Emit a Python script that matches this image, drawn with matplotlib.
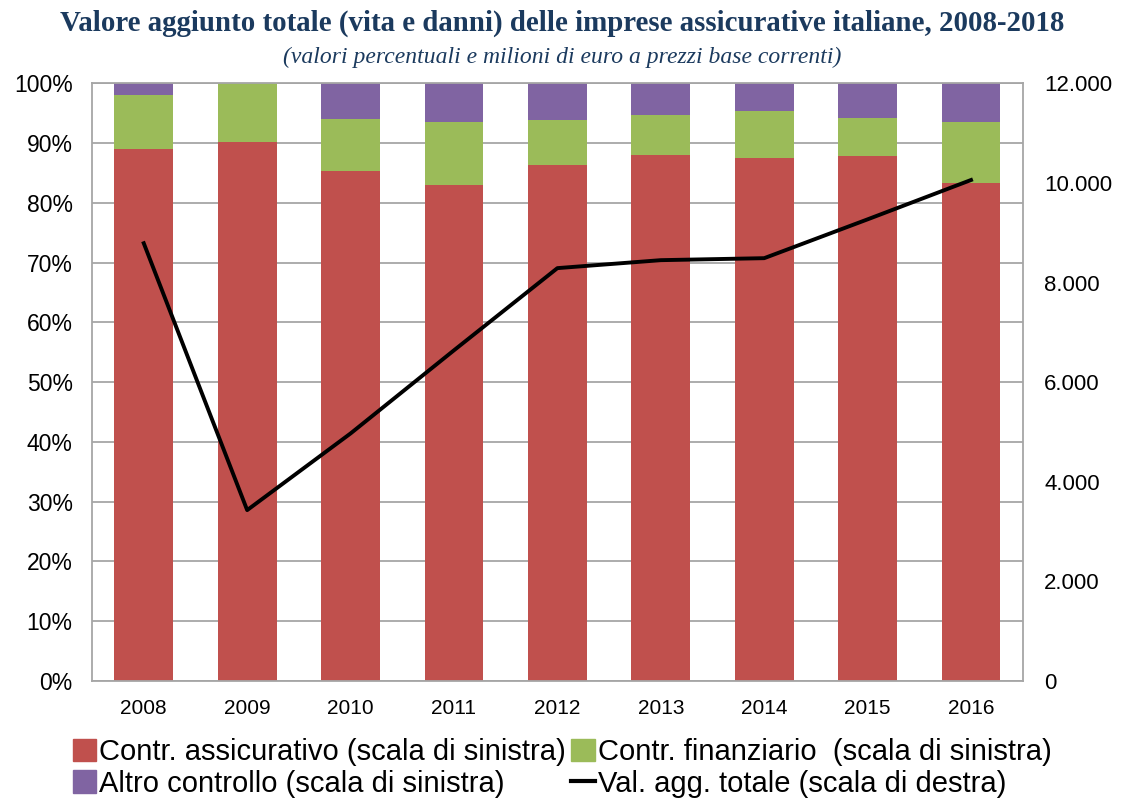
import numpy as np
import matplotlib
matplotlib.use("Agg")
import matplotlib.pyplot as plt
from matplotlib.ticker import FuncFormatter
from matplotlib.lines import Line2D
from matplotlib.patches import Patch

years = ["2008", "2009", "2010", "2011", "2012", "2013", "2014", "2015", "2016"]
assicurativo = [89.0, 90.2, 85.4, 83.0, 86.3, 88.0, 87.5, 87.8, 83.3]
finanziario = [9.0, 9.8, 8.6, 10.6, 7.5, 6.7, 7.8, 6.4, 10.3]
altro = [2.0, 0.0, 6.0, 6.4, 6.2, 5.3, 4.7, 5.8, 6.4]
val_agg = [8790, 3430, 4970, 6640, 8290, 8450, 8490, 9270, 10060]

red = "#C0504D"
green = "#9BBB59"
purple = "#8064A2"
grid_col = "#A6A6A6"
title_col = "#1B3A5E"

plt.rcParams["font.family"] = ["Liberation Sans", "DejaVu Sans"]

fig = plt.figure(figsize=(11.24, 8.02), dpi=100)
ax = fig.add_axes([0.0819, 0.151, 0.828, 0.745])

x = np.arange(len(years))
w = 0.57
a = np.array(assicurativo)
f = np.array(finanziario)
o = np.array(altro)
ax.bar(x, a, w, color=red, zorder=2)
ax.bar(x, f, w, bottom=a, color=green, zorder=2)
ax.bar(x, o, w, bottom=a + f, color=purple, zorder=2)

ax.set_xlim(-0.5, len(years) - 0.5)
ax.set_ylim(0, 100)
ax.set_yticks(np.arange(0, 101, 10))
ax.yaxis.set_major_formatter(FuncFormatter(lambda v, p: f"{int(v)}%"))
ax.set_xticks(x)
ax.set_xticklabels(years)
ax.grid(axis="y", color=grid_col, lw=1.3, zorder=0)
ax.set_axisbelow(True)
for s in ax.spines.values():
    s.set_color(grid_col)
    s.set_linewidth(1.3)
ax.tick_params(axis="y", length=0, labelsize=16.5, pad=14, colors="#000000")
ax.tick_params(axis="x", length=0, labelsize=15, pad=13)

ax2 = ax.twinx()
ax2.plot(x, val_agg, color="black", lw=2.8, zorder=3)
ax2.set_ylim(0, 12000)
ax2.set_yticks(np.arange(0, 12001, 2000))
ax2.yaxis.set_major_formatter(FuncFormatter(lambda v, p: f"{int(v):,}".replace(",", ".")))
ax2.tick_params(axis="y", length=0, labelsize=16, pad=15.5)
for s in ax2.spines.values():
    s.set_visible(False)

fig.text(0.5, 0.971, "Valore aggiunto totale (vita e danni) delle imprese assicurative italiane, 2008-2018",
         ha="center", va="center", fontsize=20.8, fontweight="bold", color=title_col,
         family=["Liberation Serif", "DejaVu Serif"])
fig.text(0.5, 0.928, "(valori percentuali e milioni di euro a prezzi base correnti)",
         ha="center", va="center", fontsize=17, style="italic", color=title_col,
         family=["Liberation Serif", "DejaVu Serif"])

handles = [
    Patch(color=red, label="Contr. assicurativo (scala di sinistra)"),
    Patch(color=purple, label="Altro controllo (scala di sinistra)"),
    Patch(color=green, label="Contr. finanziario  (scala di sinistra)"),
    Line2D([0], [0], color="black", lw=3, label="Val. agg. totale (scala di destra)"),
]
fig.legend(handles=handles, ncol=2, loc="lower center", bbox_to_anchor=(0.5, -0.009),
           frameon=False, fontsize=21, handlelength=0.8, handleheight=0.8,
           handletextpad=0.1, columnspacing=0.2, labelspacing=0.12, borderaxespad=0.0)

fig.savefig("out.png", dpi=100)
